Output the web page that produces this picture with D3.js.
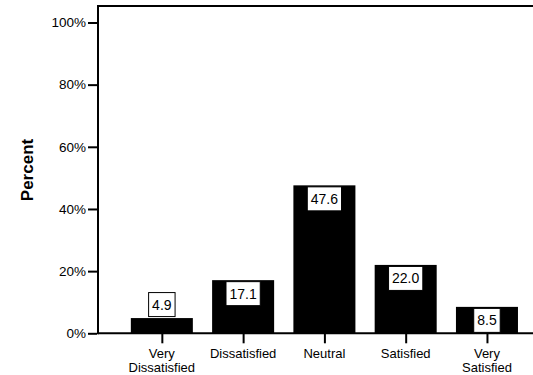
<!DOCTYPE html>
<html><head><meta charset="utf-8">
<script src="https://cdn.jsdelivr.net/npm/d3@7"></script>
<style>
html,body{margin:0;padding:0;background:#fff;}
svg{display:block;font-family:Arial,"Liberation Sans",Helvetica,sans-serif;}
</style></head>
<body>
<svg id="chart" width="533" height="375"></svg>
<script>
const categories = [["Very","Dissatisfied"],["Dissatisfied"],["Neutral"],["Satisfied"],["Very","Satisfied"]];
const values = [4.9, 17.1, 47.6, 22.0, 8.5];
const yTicks = [0, 20, 40, 60, 80, 100];
const yTitle = "Percent";

const svg = d3.select("#chart");
const W = 533, H = 375;
const axisX = 98, axisY = 333.3, topY = 6;

const x = d3.scaleBand().domain(d3.range(values.length))
  .range([121.2, 527.6]).paddingInner(0.237).paddingOuter(0.1185);
const y = d3.scaleLinear().domain([0, 105.3]).range([axisY, topY]);

// bars
svg.append("g").selectAll("rect").data(values).join("rect")
  .attr("x", (d,i) => x(i)).attr("width", x.bandwidth())
  .attr("y", d => y(d)).attr("height", d => y(0) - y(d))
  .attr("fill", "#000");

// frame lines
svg.append("line").attr("x1", axisX).attr("x2", W).attr("y1", y.range()[1]).attr("y2", y.range()[1])
  .attr("stroke", "#000").attr("stroke-width", 2);
svg.append("line").attr("x1", axisX).attr("x2", W).attr("y1", y(0)).attr("y2", y(0))
  .attr("stroke", "#000").attr("stroke-width", 2);
svg.append("line").attr("x1", axisX).attr("x2", axisX).attr("y1", y.range()[1]-1).attr("y2", y(0)+1)
  .attr("stroke", "#000").attr("stroke-width", 2);

// y axis
const yAxis = d3.axisLeft(y).tickValues(yTicks).tickFormat(d => d + "%").tickSize(9).tickPadding(2);
const gy = svg.append("g").attr("transform", `translate(${axisX-1},0)`).call(yAxis);
gy.select(".domain").remove();
gy.selectAll(".tick line").attr("stroke", "#000").attr("stroke-width", 2);
gy.selectAll(".tick text").attr("font-size", 13.5).attr("fill", "#000")
  .attr("font-family", "Arial, 'Liberation Sans', sans-serif");

// x axis ticks
const xAxis = d3.axisBottom(d3.scalePoint().domain(d3.range(values.length))
  .range([x(0)+x.bandwidth()/2, x(values.length-1)+x.bandwidth()/2]))
  .tickSize(10).tickFormat("");
const gx = svg.append("g").attr("transform", `translate(0,${axisY})`).call(xAxis);
gx.select(".domain").remove();
gx.selectAll(".tick line").attr("stroke", "#000").attr("stroke-width", 2);

// x labels
const lbl = svg.append("g").selectAll("text").data(categories).join("text")
  .attr("x", (d,i) => x(i) + x.bandwidth()/2)
  .attr("y", 357.7)
  .attr("text-anchor", "middle").attr("font-size", 13).attr("fill", "#000");
lbl.selectAll("tspan").data(d => d).join("tspan")
  .attr("x", function(){ return d3.select(this.parentNode).attr("x"); })
  .attr("dy", (d,j) => j === 0 ? 0 : 14.5)
  .text(d => d);

// y title
svg.append("text").attr("transform", "translate(32.5,170) rotate(-90)")
  .attr("text-anchor", "middle").attr("font-size", 17).attr("font-weight", "bold")
  .attr("fill", "#000").text(yTitle);

// value labels
const boxH = 24;
const vg = svg.append("g").selectAll("g").data(values).join("g");
vg.each(function(d, i){
  const g = d3.select(this);
  const cx = x(i) + x.bandwidth()/2;
  const t = g.append("text").attr("font-size", 14).attr("text-anchor", "middle")
    .attr("fill", "#000").text(d.toFixed(1));
  const tw = t.node().getComputedTextLength();
  const bw = tw + 7;
  const barH = y(0) - y(d);
  const top = barH < boxH + 4 && barH < 20 ? y(d) - boxH - 1.5 : y(d) + 1.5;
  g.insert("rect", "text").attr("x", cx - bw/2).attr("y", top).attr("width", bw).attr("height", boxH)
    .attr("fill", "#fff").attr("stroke", "#000").attr("stroke-width", 1);
  t.attr("x", cx).attr("y", top + boxH/2 + 5);
});
</script>
</body></html>
